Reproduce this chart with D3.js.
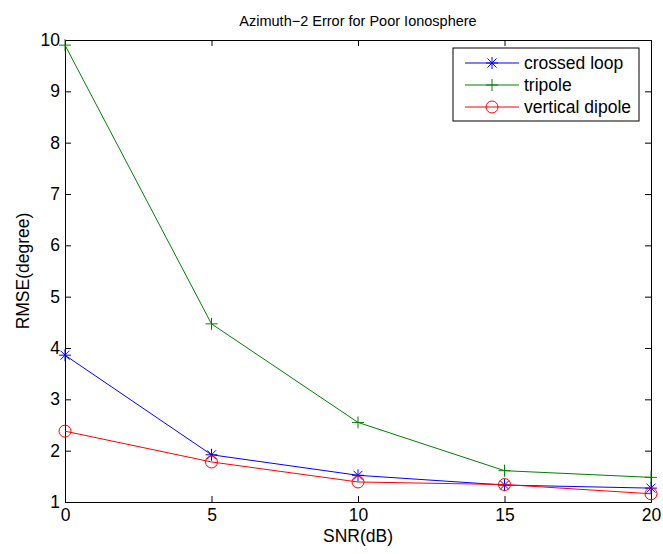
<!DOCTYPE html>
<html>
<head>
<meta charset="utf-8">
<script src="https://cdn.jsdelivr.net/npm/d3@7"></script>
<style>
  body { margin: 0; background: #fff; }
  text { font-family: "Liberation Sans", Arial, sans-serif; }
</style>
</head>
<body>
<svg id="chart" width="663" height="554"></svg>
<script>
const snr = [0, 5, 10, 15, 20];
const crossedLoop = [3.86, 1.92, 1.52, 1.33, 1.27];
const tripole = [9.9, 4.47, 2.55, 1.61, 1.48];
const verticalDipole = [2.38, 1.78, 1.39, 1.34, 1.16];
const xTicks = [0, 5, 10, 15, 20];
const yTicks = [1, 2, 3, 4, 5, 6, 7, 8, 9, 10];

const svg = d3.select("#chart");
const margin = { left: 65, top: 40, right: 12, bottom: 52 };
const W = 663, H = 554;
const fs = 17.5;

const x = d3.scaleLinear().domain([0, 20]).range([margin.left, W - margin.right]);
const y = d3.scaleLinear().domain([1, 10]).range([H - margin.bottom, margin.top]);

const series = [
  { name: "crossed loop", values: crossedLoop, color: "#0000ff", marker: "star" },
  { name: "tripole", values: tripole, color: "#008000", marker: "plus" },
  { name: "vertical dipole", values: verticalDipole, color: "#ff0000", marker: "circle" }
];

// axes with inward ticks on all sides
const tl = 6;
svg.append("g").attr("transform", `translate(0,${y(1)})`)
  .call(d3.axisBottom(x).tickValues(xTicks).tickSizeInner(-tl).tickSizeOuter(0).tickPadding(7))
  .call(g => g.selectAll("text").attr("font-size", fs).attr("fill", "#000"));
svg.append("g").attr("transform", `translate(0,${y(10)})`)
  .call(d3.axisTop(x).tickValues(xTicks).tickSizeInner(-tl).tickSizeOuter(0).tickFormat(""));
svg.append("g").attr("transform", `translate(${x(0)},0)`)
  .call(d3.axisLeft(y).tickValues(yTicks).tickSizeInner(-tl).tickSizeOuter(0).tickPadding(5))
  .call(g => g.selectAll("text").attr("font-size", fs).attr("fill", "#000"));
svg.append("g").attr("transform", `translate(${x(20)},0)`)
  .call(d3.axisRight(y).tickValues(yTicks).tickSizeInner(-tl).tickSizeOuter(0).tickFormat(""));
svg.selectAll(".domain").attr("stroke", "#000");

const line = d3.line().x((d, i) => x(snr[i])).y(d => y(d));

function drawMarker(g, type, cx, cy, color) {
  if (type === "circle") {
    g.append("circle").attr("cx", cx).attr("cy", cy).attr("r", 6)
      .attr("fill", "none").attr("stroke", color).attr("stroke-width", 1);
  } else if (type === "plus") {
    g.append("path").attr("d", `M${cx - 6},${cy}H${cx + 6}M${cx},${cy - 6}V${cy + 6}`)
      .attr("stroke", color).attr("stroke-width", 1);
  } else {
    const r = 6, d = 4.5;
    g.append("path")
      .attr("d", `M${cx - r},${cy}H${cx + r}M${cx},${cy - r}V${cy + r}M${cx - d},${cy - d}L${cx + d},${cy + d}M${cx - d},${cy + d}L${cx + d},${cy - d}`)
      .attr("stroke", color).attr("stroke-width", 1);
  }
}

series.forEach(s => {
  svg.append("path").datum(s.values).attr("d", line)
    .attr("fill", "none").attr("stroke", s.color).attr("stroke-width", 1);
  const g = svg.append("g");
  s.values.forEach((v, i) => drawMarker(g, s.marker, x(snr[i]), y(v), s.color));
});

// legend
const lg = svg.append("g").attr("transform", "translate(453,48)");
lg.append("rect").attr("width", 186).attr("height", 73)
  .attr("fill", "#fff").attr("stroke", "#000").attr("stroke-width", 1);
series.forEach((s, i) => {
  const cy = 15 + i * 22;
  lg.append("line").attr("x1", 12).attr("x2", 66).attr("y1", cy).attr("y2", cy)
    .attr("stroke", s.color).attr("stroke-width", 1);
  drawMarker(lg, s.marker, 39, cy, s.color);
  lg.append("text").attr("x", 71).attr("y", cy + 6).attr("font-size", fs).text(s.name);
});

// title and labels
svg.append("text").attr("x", (x(0) + x(20)) / 2).attr("y", 26).attr("text-anchor", "middle")
  .attr("font-size", 14.5).text("Azimuth\u22122 Error for Poor Ionosphere");
svg.append("text").attr("x", (x(0) + x(20)) / 2).attr("y", 542).attr("text-anchor", "middle")
  .attr("font-size", fs).text("SNR(dB)");
svg.append("text").attr("transform", `translate(29,${(y(1) + y(10)) / 2}) rotate(-90)`)
  .attr("text-anchor", "middle").attr("font-size", fs).text("RMSE(degree)");
</script>
</body>
</html>
